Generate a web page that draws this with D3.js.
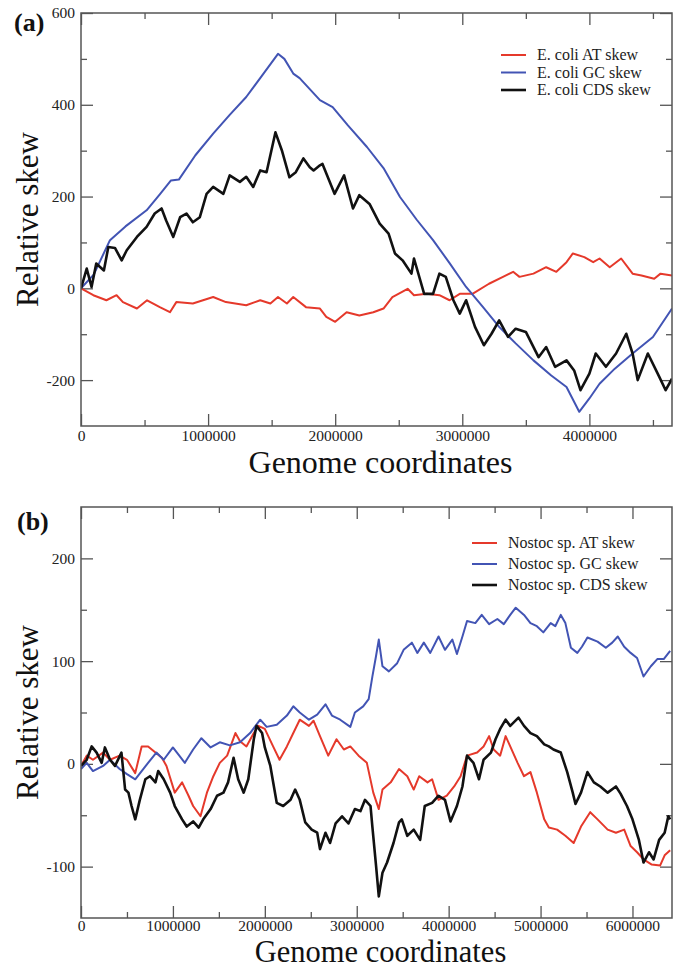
<!DOCTYPE html>
<html>
<head>
<meta charset="utf-8">
<script src="https://cdn.jsdelivr.net/npm/d3@7"></script>
<style>
  body { margin: 0; background: #fff; }
  svg { display: block; }
  svg text { font-family: "Liberation Serif", "Times New Roman", serif; }
</style>
</head>
<body>
<svg id="chart" width="680" height="969"></svg>
<script>
// ---- data: [genome coordinate, relative skew] ----
const ecoliAT = [[0,0],[97000,-15],[200000,-26],[280000,-15],[330000,-30],[440000,-44],[520000,-26],[620000,-41],[700000,-52],[750000,-30],[880000,-33],[1040000,-19],[1140000,-30],[1300000,-37],[1410000,-26],[1490000,-33],[1550000,-19],[1620000,-33],[1670000,-19],[1770000,-41],[1880000,-44],[1930000,-62],[2000000,-73],[2090000,-52],[2190000,-59],[2300000,-52],[2380000,-44],[2450000,-19],[2570000,-1],[2620000,-15],[2720000,-12],[2820000,-15],[2900000,-26],[2980000,-12],[3080000,-12],[3210000,10],[3320000,25],[3400000,36],[3450000,25],[3560000,32],[3660000,46],[3740000,36],[3820000,57],[3870000,76],[3960000,68],[4030000,57],[4080000,65],[4160000,46],[4250000,65],[4340000,32],[4410000,28],[4510000,21],[4560000,32],[4650000,28]];

const ecoliGC = [[0,0],[100000,30],[228000,105],[350000,135],[516000,170],[620000,205],[708000,235],[770000,237],[900000,290],[1040000,337],[1170000,378],[1300000,417],[1420000,462],[1550000,511],[1600000,500],[1670000,468],[1720000,458],[1880000,410],[1980000,395],[2100000,355],[2250000,308],[2380000,262],[2510000,199],[2640000,150],[2770000,105],[2900000,55],[3030000,3],[3160000,-40],[3290000,-84],[3420000,-120],[3560000,-157],[3700000,-190],[3820000,-215],[3920000,-269],[4000000,-240],[4080000,-208],[4200000,-175],[4340000,-142],[4500000,-106],[4650000,-44]];

const ecoliCDS = [[0,0],[45000,43],[83000,3],[120000,54],[180000,39],[215000,90],[267000,88],[320000,61],[360000,83],[440000,112],[516000,134],[580000,163],[634000,174],[670000,148],[726000,112],[780000,155],[830000,163],[880000,144],[935000,155],[988000,206],[1040000,221],[1120000,206],[1170000,246],[1250000,232],[1300000,243],[1355000,221],[1410000,257],[1460000,253],[1530000,340],[1580000,301],[1640000,242],[1690000,253],[1750000,283],[1800000,264],[1830000,257],[1880000,268],[1900000,271],[1995000,206],[2070000,246],[2140000,174],[2190000,203],[2270000,184],[2350000,141],[2420000,119],[2470000,76],[2530000,61],[2600000,32],[2620000,65],[2700000,-12],[2770000,-12],[2820000,32],[2870000,25],[2930000,-26],[2980000,-55],[3030000,-26],[3100000,-84],[3170000,-124],[3230000,-99],[3290000,-70],[3360000,-106],[3420000,-88],[3500000,-95],[3600000,-150],[3660000,-128],[3730000,-171],[3820000,-157],[3880000,-179],[3930000,-222],[4000000,-186],[4050000,-142],[4130000,-171],[4210000,-142],[4290000,-99],[4340000,-142],[4380000,-200],[4460000,-142],[4550000,-193],[4600000,-222],[4650000,-197]];

const nostocAT = [[0,-2],[62000,8],[130000,4],[240000,11],[316000,4],[420000,8],[500000,4],[590000,-9],[660000,17],[730000,17],[810000,11],[880000,6],[930000,-2],[1020000,-28],[1100000,-18],[1170000,-31],[1220000,-41],[1300000,-51],[1370000,-28],[1440000,-12],[1510000,1],[1590000,8],[1680000,30],[1730000,22],[1800000,17],[1880000,30],[1930000,37],[2000000,34],[2090000,17],[2160000,4],[2240000,17],[2310000,30],[2380000,43],[2480000,37],[2530000,42],[2600000,27],[2690000,8],[2780000,24],[2860000,14],[2930000,17],[3020000,8],[3110000,1],[3180000,-28],[3240000,-44],[3280000,-25],[3370000,-18],[3460000,-5],[3550000,-12],[3620000,-25],[3680000,-12],[3770000,-18],[3820000,-15],[3890000,-35],[3980000,-31],[4060000,-22],[4130000,-12],[4200000,8],[4310000,11],[4380000,17],[4440000,27],[4490000,14],[4560000,8],[4620000,27],[4670000,17],[4750000,1],[4820000,-12],[4890000,-8],[4960000,-28],[5040000,-54],[5090000,-62],[5180000,-64],[5270000,-70],[5360000,-77],[5440000,-61],[5540000,-47],[5620000,-54],[5730000,-64],[5820000,-67],[5910000,-64],[5980000,-80],[6050000,-86],[6120000,-93],[6210000,-98],[6300000,-99],[6350000,-89],[6410000,-84]];

const nostocGC = [[0,-5],[62000,1],[130000,-7],[240000,-2],[316000,4],[420000,-5],[500000,-10],[590000,-15],[660000,-7],[730000,1],[820000,11],[900000,4],[1000000,16],[1130000,1],[1220000,14],[1310000,25],[1410000,16],[1510000,21],[1620000,18],[1730000,21],[1840000,30],[1950000,43],[2020000,36],[2130000,38],[2240000,47],[2310000,56],[2380000,50],[2480000,43],[2570000,48],[2660000,58],[2730000,47],[2820000,43],[2930000,36],[2980000,50],[3070000,56],[3130000,63],[3170000,85],[3210000,105],[3240000,121],[3280000,95],[3350000,90],[3440000,98],[3510000,111],[3600000,118],[3660000,108],[3730000,118],[3800000,108],[3890000,124],[3960000,111],[4040000,121],[4090000,107],[4150000,124],[4200000,139],[4290000,137],[4360000,145],[4440000,136],[4530000,141],[4600000,136],[4670000,145],[4730000,152],[4820000,145],[4890000,137],[4960000,134],[5030000,128],[5110000,137],[5160000,134],[5220000,145],[5270000,137],[5330000,113],[5400000,108],[5450000,114],[5510000,123],[5620000,119],[5710000,113],[5780000,118],[5840000,124],[5910000,114],[5980000,108],[6050000,103],[6120000,85],[6200000,95],[6270000,102],[6340000,102],[6410000,110]];

const nostocCDS = [[0,-2],[62000,4],[116000,17],[170000,11],[225000,1],[260000,16],[316000,4],[370000,-2],[440000,11],[480000,-25],[516000,-28],[550000,-41],[590000,-54],[640000,-35],[700000,-15],[750000,-12],[810000,-18],[840000,-7],[900000,-15],[970000,-28],[1020000,-41],[1100000,-54],[1150000,-61],[1220000,-56],[1280000,-62],[1330000,-54],[1410000,-44],[1480000,-31],[1550000,-28],[1600000,-18],[1660000,6],[1710000,-15],[1770000,-28],[1820000,-15],[1880000,24],[1910000,37],[1970000,30],[2000000,16],[2060000,-2],[2130000,-38],[2200000,-41],[2280000,-35],[2330000,-25],[2380000,-35],[2440000,-57],[2510000,-64],[2570000,-67],[2600000,-83],[2660000,-67],[2710000,-77],[2770000,-58],[2840000,-51],[2910000,-58],[2980000,-44],[3040000,-46],[3090000,-35],[3150000,-41],[3170000,-61],[3210000,-99],[3240000,-129],[3280000,-106],[3330000,-96],[3400000,-77],[3460000,-57],[3490000,-54],[3550000,-70],[3620000,-64],[3690000,-74],[3740000,-41],[3820000,-38],[3890000,-31],[3960000,-35],[4020000,-56],[4090000,-41],[4150000,-22],[4200000,8],[4270000,1],[4330000,-15],[4380000,4],[4460000,11],[4510000,24],[4560000,34],[4620000,43],[4670000,37],[4760000,45],[4820000,37],[4890000,30],[4960000,27],[5040000,19],[5090000,17],[5140000,14],[5220000,11],[5290000,-8],[5350000,-28],[5380000,-39],[5440000,-28],[5510000,-8],[5580000,-18],[5650000,-22],[5730000,-28],[5820000,-22],[5870000,-29],[5940000,-41],[6000000,-54],[6070000,-74],[6120000,-96],[6180000,-86],[6230000,-93],[6290000,-74],[6350000,-67],[6390000,-51],[6410000,-54]];

const ecoliLabels = ["E. coli AT skew", "E. coli GC skew", "E. coli CDS skew"];
const nostocLabels = ["Nostoc sp. AT skew", "Nostoc sp. GC skew", "Nostoc sp. CDS skew"];

const ecoliXTicks = [0, 1000000, 2000000, 3000000, 4000000];
const ecoliXMinor = [500000, 1500000, 2500000, 3500000, 4500000];
const ecoliYTicks = [-200, 0, 200, 400, 600];
const ecoliYMinor = [-100, 100, 300, 500];

const nostocXTicks = [0, 1000000, 2000000, 3000000, 4000000, 5000000, 6000000];
const nostocXMinor = [500000, 1500000, 2500000, 3500000, 4500000, 5500000];
const nostocYTicks = [-100, 0, 100, 200];
const nostocYMinor = [-50, 50, 150];

const colors = ["#e5392b", "#4254b4", "#111111"];
const widths = [2, 2, 2.6];
const serif = "'Liberation Serif', 'Times New Roman', serif";

const svg = d3.select("#chart");

function drawPanel(p) {
  const x = d3.scaleLinear().domain(p.xDomain).range([p.left, p.right]);
  const y = d3.scaleLinear().domain(p.yDomain).range([p.bottom, p.top]);
  const g = svg.append("g");

  const clipId = "clip-" + p.tag;
  g.append("clipPath").attr("id", clipId)
    .append("rect")
    .attr("x", p.left).attr("y", p.top)
    .attr("width", p.right - p.left).attr("height", p.bottom - p.top);

  // axes with inward ticks on all four sides
  const styleAxis = sel => {
    sel.attr("font-family", serif);
    sel.select(".domain").remove();
    sel.selectAll("line").attr("stroke", "#555").attr("stroke-width", 1.3);
    sel.selectAll("text")
      .attr("font-family", serif)
      .attr("font-size", 15.5).attr("fill", "#222");
  };

  const fmt = d => String(d);
  g.append("g").attr("transform", `translate(0,${p.bottom})`)
    .call(d3.axisBottom(x).tickValues(p.xTicks).tickSize(-12).tickPadding(p.xPad).tickFormat(fmt))
    .call(styleAxis);
  g.append("g").attr("transform", `translate(0,${p.bottom})`)
    .call(d3.axisBottom(x).tickValues(p.xMinor).tickSize(-6).tickFormat(""))
    .call(styleAxis);
  g.append("g").attr("transform", `translate(0,${p.top})`)
    .call(d3.axisTop(x).tickValues(p.xTicks).tickSize(-12).tickFormat(""))
    .call(styleAxis);
  g.append("g").attr("transform", `translate(0,${p.top})`)
    .call(d3.axisTop(x).tickValues(p.xMinor).tickSize(-6).tickFormat(""))
    .call(styleAxis);

  g.append("g").attr("transform", `translate(${p.left},0)`)
    .call(d3.axisLeft(y).tickValues(p.yTicks).tickSize(-12).tickPadding(6).tickFormat(fmt))
    .call(styleAxis);
  g.append("g").attr("transform", `translate(${p.left},0)`)
    .call(d3.axisLeft(y).tickValues(p.yMinor).tickSize(-6).tickFormat(""))
    .call(styleAxis);
  g.append("g").attr("transform", `translate(${p.right},0)`)
    .call(d3.axisRight(y).tickValues(p.yTicks).tickSize(-12).tickFormat(""))
    .call(styleAxis);
  g.append("g").attr("transform", `translate(${p.right},0)`)
    .call(d3.axisRight(y).tickValues(p.yMinor).tickSize(-6).tickFormat(""))
    .call(styleAxis);

  // series
  const line = d3.line().x(d => x(d[0])).y(d => y(d[1]));
  p.series.forEach((s, i) => {
    g.append("path")
      .datum(s)
      .attr("clip-path", `url(#${clipId})`)
      .attr("fill", "none")
      .attr("stroke", colors[i])
      .attr("stroke-width", widths[i])
      .attr("stroke-linejoin", "round")
      .attr("d", line);
  });

  // frame
  g.append("rect")
    .attr("x", p.left).attr("y", p.top)
    .attr("width", p.right - p.left).attr("height", p.bottom - p.top)
    .attr("fill", "none").attr("stroke", "#555").attr("stroke-width", 1.5);

  // legend
  p.labels.forEach((lab, i) => {
    const ly = p.legendY + i * p.legendStep;
    g.append("line")
      .attr("x1", p.legendX).attr("x2", p.legendX + 25)
      .attr("y1", ly).attr("y2", ly)
      .attr("stroke", colors[i]).attr("stroke-width", widths[i]);
    g.append("text")
      .attr("x", p.legendX + 36).attr("y", ly + 5)
      .attr("font-family", serif)
      .attr("font-size", 16).attr("fill", "#222")
      .text(lab);
  });

  // panel letter and axis titles
  g.append("text")
    .attr("x", p.letterX).attr("y", p.letterY)
    .attr("font-family", serif)
    .attr("font-size", 26).attr("font-weight", "bold").attr("fill", "#111")
    .text(p.letter);

  g.append("text")
    .attr("transform", `translate(38,${(p.top + p.bottom) / 2}) rotate(-90)`)
    .attr("text-anchor", "middle")
    .attr("font-family", serif)
    .attr("font-size", 31).attr("fill", "#111")
    .text("Relative skew");

  g.append("text")
    .attr("x", (p.left + p.right) / 2 + 4).attr("y", p.titleY)
    .attr("text-anchor", "middle")
    .attr("font-family", serif)
    .attr("font-size", p.titleSize).attr("fill", "#111")
    .text("Genome coordinates");
}

drawPanel({
  tag: "a", letter: "(a)", letterX: 14, letterY: 31,
  left: 81, right: 672, top: 13, bottom: 426, titleY: 473, titleSize: 32, xPad: 4,
  xDomain: [0, 4650000], yDomain: [-300, 600],
  xTicks: ecoliXTicks, xMinor: ecoliXMinor, yTicks: ecoliYTicks, yMinor: ecoliYMinor,
  series: [ecoliAT, ecoliGC, ecoliCDS], labels: ecoliLabels,
  legendX: 501, legendY: 55, legendStep: 17.5
});

drawPanel({
  tag: "b", letter: "(b)", letterX: 17, letterY: 530,
  left: 81, right: 672, top: 507, bottom: 918, titleY: 962, titleSize: 30.5, xPad: 2,
  xDomain: [0, 6430000], yDomain: [-150, 250],
  xTicks: nostocXTicks, xMinor: nostocXMinor, yTicks: nostocYTicks, yMinor: nostocYMinor,
  series: [nostocAT, nostocGC, nostocCDS], labels: nostocLabels,
  legendX: 472, legendY: 543, legendStep: 21
});
</script>
</body>
</html>
